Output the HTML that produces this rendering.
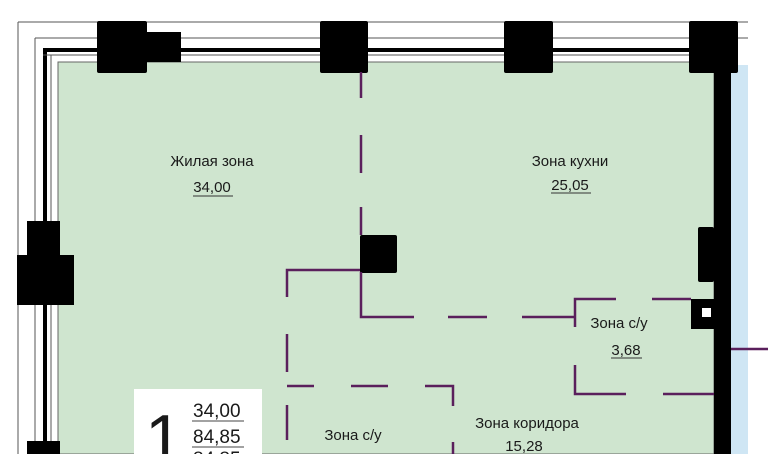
<!DOCTYPE html>
<html><head><meta charset="utf-8"><style>
html,body{margin:0;padding:0;background:#fff;width:768px;height:454px;overflow:hidden}
svg{display:block}
text{font-family:"Liberation Sans",sans-serif;fill:#1a1a1a}
</style></head><body>
<svg width="768" height="454" viewBox="0 0 768 454" xmlns="http://www.w3.org/2000/svg">
<rect width="768" height="454" fill="#fff"/>
<rect x="58" y="62" width="656" height="392" fill="#cfe5cf" stroke="#666" stroke-width="1"/>
<rect x="731" y="65" width="17" height="389" fill="#cfe6f4"/>
<line x1="18" y1="22" x2="748" y2="22" stroke="#555" stroke-width="1"/>
<line x1="35" y1="38" x2="748" y2="38" stroke="#555" stroke-width="1"/>
<line x1="18" y1="22" x2="18" y2="454" stroke="#555" stroke-width="1"/>
<line x1="35" y1="38" x2="35" y2="454" stroke="#555" stroke-width="1"/>
<line x1="43" y1="50" x2="700" y2="50" stroke="#000" stroke-width="4"/>
<line x1="45" y1="48" x2="45" y2="454" stroke="#000" stroke-width="4"/>
<line x1="43" y1="55" x2="700" y2="55" stroke="#555" stroke-width="1"/>
<line x1="51" y1="55" x2="51" y2="454" stroke="#555" stroke-width="1"/>
<rect x="714" y="62" width="17" height="392" fill="#000"/>
<g fill="#000">
<rect x="97" y="21" width="50" height="52" rx="2"/>
<rect x="146" y="32" width="35" height="30"/>
<rect x="320" y="21" width="48" height="52" rx="2"/>
<rect x="504" y="21" width="49" height="52" rx="2"/>
<rect x="689" y="21" width="49" height="52" rx="2"/>
<rect x="27" y="221" width="33" height="36"/>
<rect x="17" y="255" width="57" height="50"/>
<rect x="27" y="441" width="33" height="13"/>
<rect x="360" y="235" width="37" height="38" rx="2"/>
<rect x="698" y="227" width="16" height="55" rx="2"/>
<rect x="691" y="299" width="23" height="30"/>
</g>
<rect x="702" y="308" width="9" height="9" fill="#fff"/>
<g stroke="#5a1f5c" stroke-width="2.5" fill="none">
<line x1="361" y1="72" x2="361" y2="98"/>
<line x1="361" y1="135" x2="361" y2="173"/>
<line x1="361" y1="207" x2="361" y2="235"/>
<polyline points="361,272 361,317 414,317"/>
<line x1="448" y1="317" x2="487" y2="317"/>
<line x1="522" y1="317" x2="575" y2="317"/>
<polyline points="616,299 575,299 575,327"/>
<line x1="652" y1="299" x2="691" y2="299"/>
<polyline points="575,365 575,394 626,394"/>
<line x1="663" y1="394" x2="714" y2="394"/>
<line x1="731" y1="349" x2="768" y2="349"/>
<polyline points="360,270 287,270 287,297"/>
<line x1="287" y1="334" x2="287" y2="372"/>
<line x1="287" y1="386" x2="314" y2="386"/>
<line x1="351" y1="386" x2="388" y2="386"/>
<polyline points="425,386 453,386 453,406"/>
<line x1="453" y1="442" x2="453" y2="454"/>
<line x1="287" y1="405" x2="287" y2="440"/>
</g>
<g font-size="15" text-anchor="middle">
<text x="212" y="166">Жилая зона</text>
<text x="212" y="192">34,00</text>
<text x="570" y="166">Зона кухни</text>
<text x="570" y="190">25,05</text>
<text x="619" y="328">Зона с/у</text>
<text x="626" y="355">3,68</text>
<text x="527" y="428">Зона коридора</text>
<text x="524" y="451">15,28</text>
<text x="353" y="440">Зона с/у</text>
</g>
<g stroke="#333" stroke-width="1">
<line x1="193" y1="196" x2="233" y2="196"/>
<line x1="551" y1="193" x2="591" y2="193"/>
<line x1="611" y1="358" x2="642" y2="358"/>
</g>
<rect x="134" y="389" width="128" height="65" fill="#fff"/>
<text x="145" y="462" font-size="68" fill="#000">1</text>
<g font-size="19">
<text x="193" y="417">34,00</text>
<text x="193" y="443">84,85</text>
<text x="193" y="465">84,85</text>
</g>
<line x1="192" y1="421" x2="244" y2="421" stroke="#444" stroke-width="1"/>
<line x1="192" y1="447" x2="244" y2="447" stroke="#444" stroke-width="1"/>
</svg>
</body></html>
